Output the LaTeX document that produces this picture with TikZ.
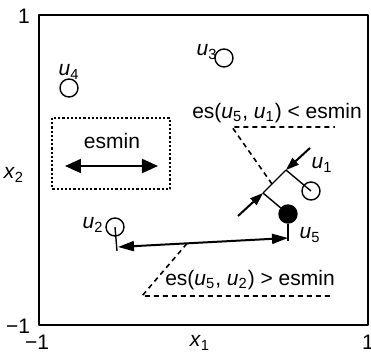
\documentclass[tikz,border=0pt]{standalone}
\usepackage{fontspec}
\setmainfont{Liberation Sans}
\usetikzlibrary{arrows.meta}
\newcommand{\uu}[1]{\textit{u}\textsubscript{#1}}

\begin{document}
\begin{tikzpicture}[
  x=0.5pt, y=-0.5pt, line join=round,
  font=\fontsize{10.5}{12}\selectfont,
  obj/.style={draw, circle, minimum size=9pt, inner sep=0pt,
              line width=0.7pt, fill=white},
  objf/.style={obj, fill=black},
  lbl/.style={inner sep=0pt},
  lnk/.style={line width=0.7pt},
  dimarr/.style={line width=1pt, -{Triangle[length=6.5pt,width=4.5pt]}},
  dsh/.style={dash pattern=on 2.5pt off 2pt, line width=0.8pt}
]

  \useasboundingbox (0,0) rectangle (371,353);

  % ── Frame and axes ────────────────────────────────────────────────────────

  \draw[line width=0.9pt] (39,15) rectangle (368,325);

  \node[lbl] (ytop) at (24,16)   {1};
  \node[lbl] (ybot) at (18,326)  {−1};
  \node[lbl] (xlft) at (37,342)  {−1};
  \node[lbl] (xrgt) at (368,342) {1};
  \node[lbl] (xone) at (200,343) {\textit{x}\textsubscript{1}};
  \node[lbl] (xtwo) at (14,175)  {\textit{x}\textsubscript{2}};

  % ── Units ─────────────────────────────────────────────────────────────────

  \node[obj]  (u1) at (311,191) {};
  \node[obj]  (u2) at (115,227) {};
  \node[obj]  (u3) at (224,58)  {};
  \node[obj]  (u4) at (69,88)   {};
  \node[objf] (u5) at (288,214) {};

  \node[lbl] (l1) at (322,165) {\uu1};
  \node[lbl] (l2) at (93,225)  {\uu2};
  \node[lbl] (l3) at (207,52)  {\uu3};
  \node[lbl] (l4) at (69,72)   {\uu4};
  \node[lbl] (l5) at (310,235) {\uu5};

  % ── esmin box ─────────────────────────────────────────────────────────────

  \draw[line width=1.1pt, dash pattern=on 1.1pt off 1pt] (52,118) rectangle (170,189);
  \node[lbl] (esm) at (112,141) {esmin};
  \coordinate (ea) at (65,166);
  \coordinate (eb) at (158,166);
  \draw[line width=1pt, {Triangle[length=8pt,width=7pt]}-{Triangle[length=8pt,width=7pt]}]
    (ea) -- (eb);

  % ── u5 close to u1 ────────────────────────────────────────────────────────

  \coordinate (a1) at (286,170);
  \coordinate (a5) at (263,193);
  \coordinate (b1) at (310,148);
  \coordinate (b5) at (238,216);
  \draw[lnk] (a5) -- (a1);
  \draw[lnk] (u1.center) -- (a1);
  \draw[lnk] (u5) -- (a5);
  \draw[dimarr] (b1) -- (a1);
  \draw[dimarr] (b5) -- (a5);

  \coordinate (d1) at (232,127);
  \coordinate (d2) at (335,127);
  \coordinate (d3) at (272,184);
  \draw[dsh] (d3) -- (d1) -- (d2);
  \node[lbl] (es1) at (277,113) {es(\uu5, \uu1) < esmin};

  % ── u5 far from u2 ────────────────────────────────────────────────────────

  \coordinate (t2) at (117,251);
  \coordinate (t5) at (288,241);
  \draw[lnk] (u2.center) -- (t2);
  \draw[lnk] (u5) -- (t5);
  \coordinate (c2) at (118,247);
  \coordinate (c5) at (288,238);
  \draw[line width=1pt, {Triangle[length=8pt,width=5pt]}-{Triangle[length=8pt,width=5pt]}]
    (c2) -- (c5);

  \coordinate (e1) at (187,243.5);
  \coordinate (e2) at (142,296);
  \coordinate (e3) at (332,296);
  \draw[dsh] (e1) -- (e2) -- (e3);
  \node[lbl] (es2) at (250,280) {es(\uu5, \uu2) > esmin};

\end{tikzpicture}
\end{document}
